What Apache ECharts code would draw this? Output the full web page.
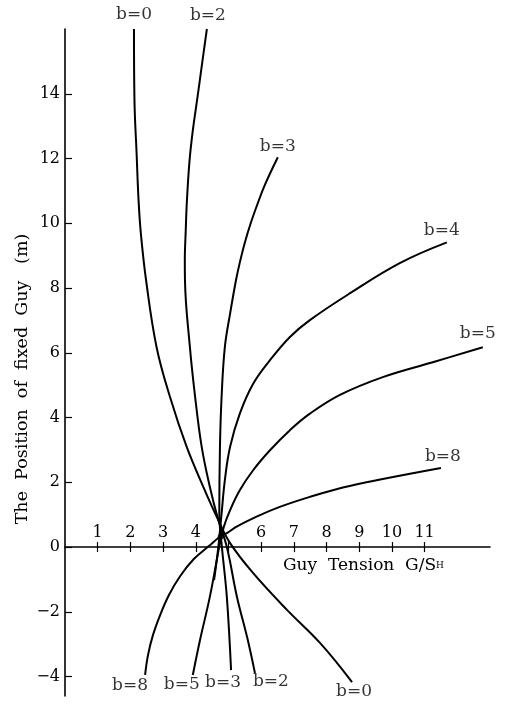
<!DOCTYPE html>
<html>
<head>
<meta charset="utf-8">
<script src="https://cdn.jsdelivr.net/npm/echarts@6/dist/echarts.min.js"></script>
<style>
  html, body { margin: 0; padding: 0; background: #fff; }
  #chart { width: 506px; height: 704px; }
</style>
</head>
<body>
<div id="chart"></div>
<script>
// curves, each one listed from its lower end to its upper end
const b0 = [[8.78, -4.17], [7.80, -2.96], [6.79, -1.94], [5.75, -0.80], [5.05, 0.12],
  [4.69, 0.83], [4.23, 1.86], [3.72, 3.10], [3.21, 4.64], [2.80, 6.18], [2.48, 8.24],
  [2.32, 9.69], [2.25, 10.71], [2.19, 12.16], [2.125, 13.8], [2.11, 16.0]];
const b2 = [[5.81, -3.89], [5.57, -2.78], [5.26, -1.54], [4.95, 0.0], [4.66, 0.94], [4.43, 1.86],
  [4.18, 3.10], [3.98, 4.64], [3.82, 6.18], [3.67, 8.24], [3.665, 8.9], [3.69, 9.69],
  [3.73, 10.71], [3.81, 11.94], [3.91, 12.87], [4.04, 13.8], [4.19, 14.91], [4.34, 16.0]];
const b3 = [[5.08, -3.80], [4.95, -1.54], [4.80, 0.0], [4.72, 1.04], [4.74, 3.10], [4.79, 4.64],
  [4.89, 6.18], [5.05, 7.21], [5.23, 8.24], [5.35, 8.8], [5.50, 9.4], [5.68, 10.0],
  [5.89, 10.6], [6.12, 11.2], [6.51, 12.04]];
const b4 = [[4.56, -1.02], [4.68, -0.09], [4.79, 1.04], [4.89, 2.07], [5.05, 3.10], [5.35, 4.13],
  [5.76, 5.05], [6.27, 5.77], [6.88, 6.49], [7.49, 7.01], [8.72, 7.84], [10.24, 8.77], [11.68, 9.41]];
const b5 = [[3.91, -3.95], [4.13, -2.87], [4.43, -1.54], [4.74, 0.12], [4.86, 0.63], [5.05, 1.14],
  [5.35, 1.76], [5.76, 2.38], [6.27, 2.99], [6.88, 3.61], [7.49, 4.12], [8.41, 4.70],
  [9.72, 5.25], [11.25, 5.71], [12.78, 6.17]];
const b8 = [[2.45, -3.95], [2.54, -3.33], [2.69, -2.72], [2.91, -2.10], [3.18, -1.48], [3.52, -0.90],
  [3.94, -0.37], [4.40, 0.03], [4.77, 0.34], [4.94, 0.42], [5.25, 0.63], [5.86, 0.94],
  [6.57, 1.24], [7.49, 1.55], [8.50, 1.84], [9.72, 2.10], [11.50, 2.44]];

const curveNames = ['b=0', 'b=2', 'b=3', 'b=4', 'b=5', 'b=8'];
const curves = [b0, b2, b3, b4, b5, b8];

// where the curves bunch together
const crossDot = [[4.76, 0.32]];

const xTicks = [1, 2, 3, 4, 5, 6, 7, 8, 9, 10, 11];
const xLabels = [1, 2, 3, 4, 6, 7, 8, 9, 10, 11];
const yTicks = [-4, -2, 0, 2, 4, 6, 8, 10, 12, 14];
const yMin = -4.6, yMax = 16;

// [curve index, end ('lo' or 'hi'), label dx, label dy]
const curveLabels = [
  [0, 'hi', 0, -14], [1, 'hi', 1, -13], [2, 'hi', 0, -11], [3, 'hi', -5, -12],
  [4, 'hi', -5, -14], [5, 'hi', 2, -11],
  [0, 'lo', 2, 10], [1, 'lo', 16, 9], [2, 'lo', -8, 12], [4, 'lo', -11, 10], [5, 'lo', -15, 11]
];

const FONT = 'DejaVu Serif';

const labelData = curveLabels.map(([i, end, dx, dy]) => {
  const pts = curves[i];
  const p = end === 'hi' ? pts[pts.length - 1] : pts[0];
  return {
    value: p,
    label: { formatter: curveNames[i], offset: [dx, dy] }
  };
});

// plot box; the second grid ends exactly at y = 0 so its axis is the horizontal axis line
const G = { left: 65, top: 29, width: 425, height: 667 };
const zeroHeight = G.height * yMax / (yMax - yMin);

const chart = echarts.init(document.getElementById('chart'));

const option = {
  animation: false,
  backgroundColor: '#fff',
  grid: [
    { left: G.left, top: G.top, width: G.width, height: G.height },
    { left: G.left, top: G.top, width: G.width, height: zeroHeight }
  ],
  xAxis: [
    {
      gridIndex: 0, type: 'value', min: 0, max: 13,
      splitLine: { show: false }, axisLine: { show: false },
      axisTick: { show: false }, axisLabel: { show: false }
    },
    {
      gridIndex: 1, type: 'value', min: 0, max: 13, position: 'bottom',
      splitLine: { show: false },
      axisLine: { onZero: false, lineStyle: { color: '#000', width: 1.6 } },
      axisTick: { customValues: xTicks, length: 5, lineStyle: { color: '#000', width: 1.2 } },
      axisLabel: {
        customValues: xLabels, inside: true, margin: 6,
        color: '#000', fontFamily: FONT, fontSize: 16
      }
    },
    {
      // upper half of the crossing ticks
      gridIndex: 1, type: 'value', min: 0, max: 13, position: 'bottom',
      splitLine: { show: false },
      axisLine: { show: false, onZero: false },
      axisTick: { customValues: xTicks, inside: true, length: 5, lineStyle: { color: '#000', width: 1.2 } },
      axisLabel: { show: false }
    }
  ],
  yAxis: [
    {
      gridIndex: 0, type: 'value', min: yMin, max: yMax,
      splitLine: { show: false },
      axisLine: { onZero: false, lineStyle: { color: '#000', width: 1.6 } },
      axisTick: { customValues: yTicks, inside: true, length: 7, lineStyle: { color: '#000', width: 1.2 } },
      axisLabel: {
        customValues: yTicks, margin: 5,
        color: '#000', fontFamily: FONT, fontSize: 16,
        formatter: v => String(v).replace('-', '\u2212')
      }
    },
    { gridIndex: 1, type: 'value', min: 0, max: yMax, show: false }
  ],
  graphic: [
    {
      type: 'text', x: 22, y: 379, rotation: Math.PI / 2,
      style: {
        text: 'The  Position  of  fixed  Guy   (m)',
        fill: '#000', font: '17.5px "DejaVu Serif"',
        align: 'center', verticalAlign: 'middle'
      }
    },
    {
      type: 'text', x: 283, y: 566,
      style: {
        text: 'Guy  Tension  G/S{sub|H}',
        fill: '#000', font: '17px "DejaVu Serif"',
        align: 'left', verticalAlign: 'middle',
        rich: { sub: { fontSize: 9, fontFamily: FONT, fill: '#000', verticalAlign: 'bottom', padding: [0, 0, 4, 0] } }
      }
    }
  ],
  series: [
    ...curves.map((pts, i) => ({
      name: curveNames[i],
      type: 'line',
      data: pts,
      smooth: 0.4,
      showSymbol: false,
      symbol: 'none',
      lineStyle: { color: '#000', width: 2 }
    })),
    {
      type: 'scatter',
      data: crossDot,
      symbolSize: 6,
      itemStyle: { color: '#000' }
    },
    {
      type: 'scatter',
      data: labelData,
      symbolSize: 1,
      itemStyle: { color: 'rgba(0,0,0,0)' },
      clip: false,
      label: {
        show: true, position: 'inside',
        color: '#000', fontFamily: FONT, fontSize: 17
      }
    }
  ]
};

chart.setOption(option);
</script>
</body>
</html>
